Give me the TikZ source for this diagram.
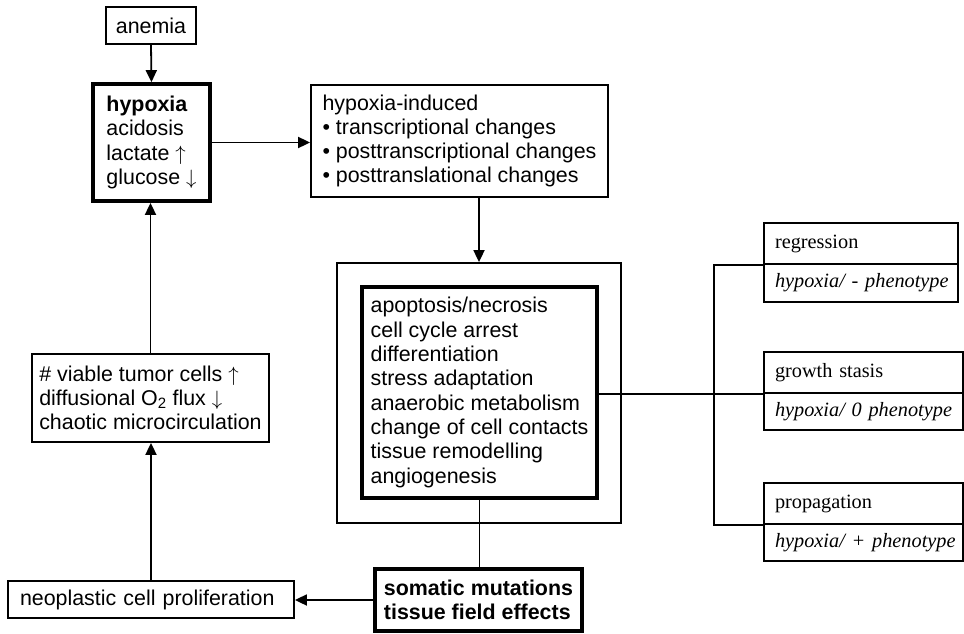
\documentclass[tikz,border=0pt]{standalone}
\usepackage{fontspec}
\setmainfont{Liberation Sans}
\newfontfamily\serf{Liberation Serif}
\usetikzlibrary{arrows.meta}
\begin{document}
\begin{tikzpicture}[x=1pt,y=1pt,
  every node/.style={font=\fontsize{21.4}{24.3}\selectfont},
  bx/.style={draw, line width=1.8pt, rectangle, inner ysep=0pt, inner xsep=0pt, align=left},
  thk/.style={line width=3.8pt},
  arr/.style={line width=1.8pt, -{Triangle[length=12pt,width=11pt]}},
  ln/.style={line width=1.8pt},
  rb/.style={draw, line width=1.8pt, rectangle, inner ysep=0pt, inner xsep=11pt, align=left, font=\fontsize{20.3}{24}\serf}
]
\useasboundingbox (0,0) rectangle (964,-634);

\node[bx, minimum width=90pt, minimum height=37pt] (anemia) at (151,-25.5) {anemia};
\node[bx, thk, minimum width=117pt, minimum height=117pt] (hypoxia) at (151.5,-142.5)
  {\textbf{hypoxia}\\acidosis\\lactate $\uparrow$\\glucose $\downarrow$};
\node[bx, minimum width=297pt, minimum height=112pt] (hypind) at (459.5,-141)
  {hypoxia-induced\\• transcriptional changes\\• posttranscriptional changes\\• posttranslational changes};
\node[bx, minimum width=284pt, minimum height=260pt] (outer) at (479,-393) {};
\node[bx, thk, minimum width=235pt, minimum height=211pt] (inner) at (479.5,-392.5)
  {apoptosis/necrosis\\cell cycle arrest\\differentiation\\stress adaptation\\anaerobic metabolism\\change of cell contacts\\tissue remodelling\\angiogenesis};
\node[bx, thk, minimum width=207pt, minimum height=62pt] (somatic) at (478.5,-600)
  {\textbf{somatic mutations}\\\textbf{tissue field effects}};
\node[bx, minimum width=286pt, minimum height=37pt, inner xsep=12pt, text width=262pt] (neo) at (151,-599.5)
  {\mbox{neoplastic cell proliferation}};
\node[bx, minimum width=237pt, minimum height=88pt] (viable) at (150.5,-398)
  {\# viable tumor cells $\uparrow$\\diffusional O\textsubscript{2} flux $\downarrow$\\chaotic microcirculation};

\node[rb, minimum width=194pt, minimum height=41pt, text width=172pt] (rtop) at (861,-243.5) {\mbox{regression}};
\node[rb, minimum width=194pt, minimum height=38pt, text width=172pt] (rbot) at (861,-283) {\mbox{\itshape hypoxia/ - phenotype}};
\node[rb, minimum width=199pt, minimum height=41pt, text width=177pt] (gtop) at (863.5,-372.5) {\mbox{growth stasis}};
\node[rb, minimum width=199pt, minimum height=37pt, text width=177pt] (gbot) at (863.5,-411.5) {\mbox{\itshape hypoxia/ 0 phenotype}};
\node[rb, minimum width=199pt, minimum height=41pt, text width=177pt] (ptop) at (863.5,-503.5) {\mbox{propagation}};
\node[rb, minimum width=199pt, minimum height=37pt, text width=177pt] (pbot) at (863.5,-542.5) {\mbox{\itshape hypoxia/ + phenotype}};

\coordinate (bus) at (714,0);

\draw[arr] (anemia.south) -- (hypoxia.north);
\draw[arr] (hypoxia.east) -- (hypoxia.east -| hypind.west);
\draw[arr] (outer.north |- hypind.south) -- (outer.north);
\draw[ln] (inner.east |- gtop.south west) -- (gtop.south west);
\draw[ln] (rtop.south west) -- (rtop.south west -| bus) -- (ptop.south west -| bus) -- (ptop.south west);
\draw[ln] (inner.south) -- (inner.south |- somatic.north);
\draw[arr] (somatic.west) -- (somatic.west -| neo.east);
\draw[arr] (neo.north) -- (neo.north |- viable.south);
\draw[arr] (viable.north) -- (viable.north |- hypoxia.south);
\end{tikzpicture}
\end{document}
